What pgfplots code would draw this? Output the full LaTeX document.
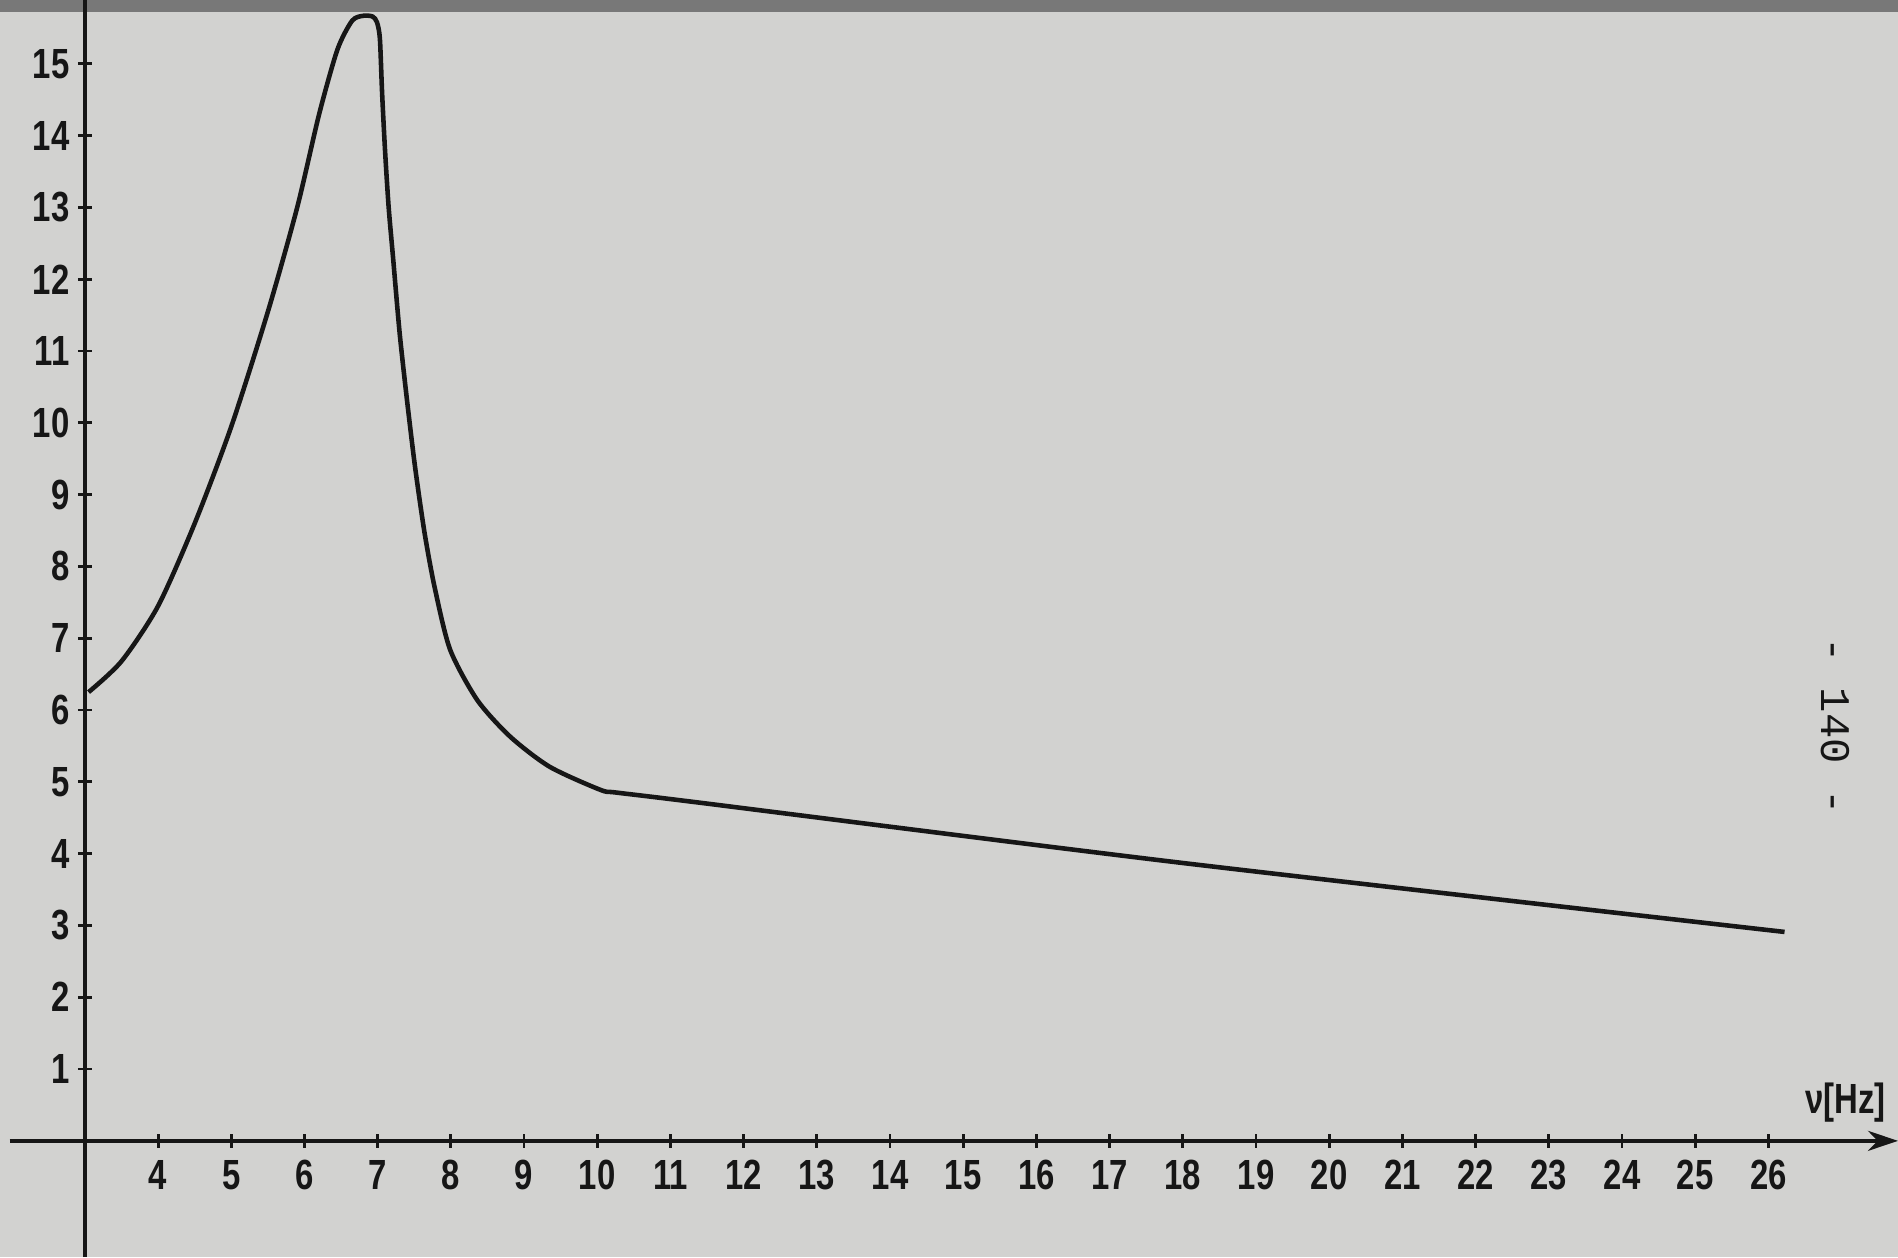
\documentclass[border=0pt]{standalone}
\usepackage{fontspec}
\setmainfont{Liberation Sans}
\newfontfamily\monofont{Liberation Mono}
\newfontfamily\condfont[FakeStretch=0.78]{Liberation Sans Bold}
\usepackage{pgfplots}
\pgfplotsset{compat=1.18}
\usetikzlibrary{arrows.meta}
\pgfdeclarelayer{background}
\pgfsetlayers{background,main}
\definecolor{paper}{RGB}{210,210,208}
\definecolor{band}{RGB}{120,120,120}
\definecolor{ink}{RGB}{22,22,22}
\begin{document}
\begin{tikzpicture}
\begin{axis}[
  x=7.32mm, y=7.18mm,
  xmin=3, xmax=27.77, ymin=0, ymax=15.89,
  axis x line=middle, axis y line=left,
  x axis line style={-{Stealth[length=3mm,width=2mm]}, line width=1pt, ink},
  y axis line style={-, line width=1.1pt, ink},
  xtick={4,...,26}, ytick={1,...,15},
  tick style={ink, line width=0.8pt},
  major tick length=1.4mm,
  tick align=center,
  ticklabel style={font=\condfont\fontsize{12}{14}\selectfont, text=ink},
  yticklabel style={xshift=0.4mm},
  /pgf/number format/assume math mode=true,
  clip=false,
]
\addplot[ink, line width=1.3pt, smooth, tension=0.45] coordinates {
 (3.05,6.25) (3.5,6.68) (4.0,7.45) (4.5,8.6) (5.0,9.95) (5.5,11.55)
 (5.9,13.0) (6.2,14.3) (6.45,15.2) (6.65,15.6) (6.8,15.67)
 (6.93,15.66) (6.99,15.58) (7.03,15.35) (7.06,14.6) (7.10,13.8) (7.15,13.0)
 (7.21,12.3) (7.30,11.25) (7.40,10.32) (7.51,9.39) (7.64,8.47) (7.78,7.7)
 (7.99,6.84) (8.36,6.14) (8.81,5.63) (9.35,5.21) (10.04,4.89) (10.27,4.85)
 (11.40,4.71) (18.0,3.87) (26.22,2.91)
};
\draw[ink, line width=1pt] (axis cs:1.97,0) -- (axis cs:3,0);
\draw[ink, line width=1.1pt] (axis cs:3,-1.62) -- (axis cs:3,0);
\node[anchor=south, font=\condfont\fontsize{12}{14}\selectfont, text=ink] at (axis cs:27.05,0.08) {ν[Hz]};
\node[rotate=-90, font=\monofont\fontsize{12}{14}\selectfont, text=ink] at (axis cs:26.92,5.78) {- 140 -};
\coordinate (ll) at (axis cs:1.84,-1.62);
\coordinate (ur) at (axis cs:27.77,15.89);
\coordinate (bandl) at (axis cs:1.84,15.72);
\end{axis}
\begin{pgfonlayer}{background}
\fill[paper] (ll) rectangle (ur);
\fill[band] (bandl) rectangle (ur);
\end{pgfonlayer}
\pgfresetboundingbox
\path (ll) rectangle (ur);
\end{tikzpicture}
\end{document}
